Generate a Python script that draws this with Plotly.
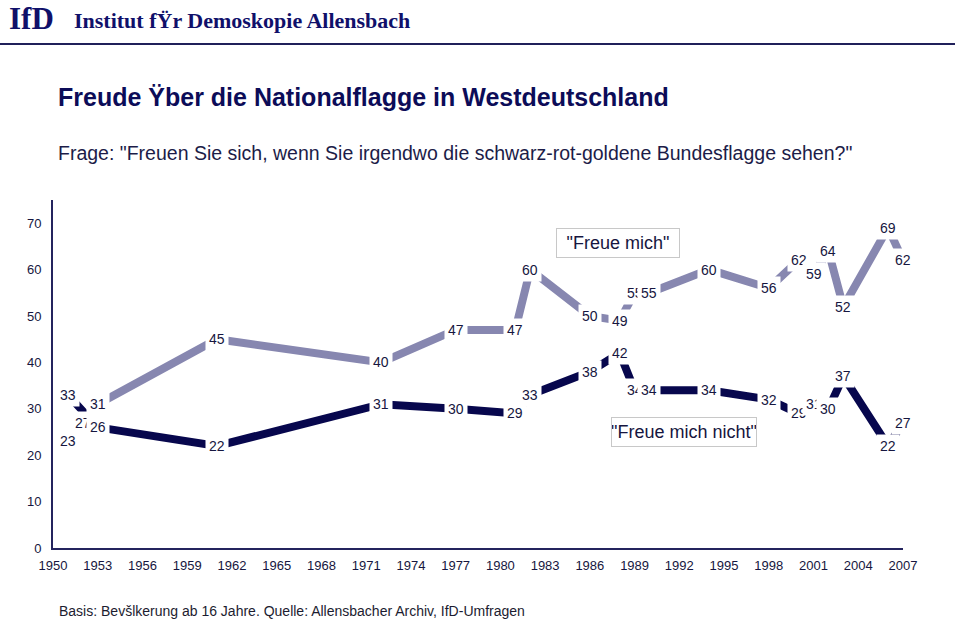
import plotly.graph_objects as go

years_mich = [1951, 1952, 1953, 1961, 1972, 1977, 1981, 1982, 1986, 1988, 1989, 1990,
              1994, 1998, 2000, 2001, 2002, 2003, 2006, 2007]
freue_mich = [23, 27, 31, 45, 40, 47, 47, 60, 50, 49, 55, 55, 60, 56, 62, 59, 64, 52, 69, 62]

years_nicht = [1951, 1953, 1961, 1972, 1977, 1981, 1982, 1986, 1988, 1989, 1990,
               1994, 1998, 2000, 2001, 2002, 2003, 2006, 2007]
freue_nicht = [33, 26, 22, 31, 30, 29, 33, 38, 42, 34, 34, 34, 32, 29, 31, 30, 37, 22, 27]

x_ticks = list(range(1950, 2008, 3))
y_ticks = list(range(0, 71, 10))

LIGHT = "#8787b0"
DARK = "#07074d"
NAVY = "#0c0c58"
TXT = "#161640"
SANS = "Liberation Sans, Arial, sans-serif"
SERIF = "Liberation Serif, Times New Roman, serif"

fig = go.Figure()
fig.add_trace(go.Scatter(x=years_mich, y=freue_mich, mode="lines",
                         line=dict(color=LIGHT, width=8), hoverinfo="skip",
                         showlegend=False))
fig.add_trace(go.Scatter(x=years_nicht, y=freue_nicht, mode="lines",
                         line=dict(color=DARK, width=8), hoverinfo="skip",
                         showlegend=False))

annotations = []
for xs, ys in ((years_mich, freue_mich), (years_nicht, freue_nicht)):
    for xv, yv in zip(xs, ys):
        annotations.append(dict(x=xv, y=yv, xref="x", yref="y", text=str(yv),
                                showarrow=False, bgcolor="white", borderpad=3,
                                font=dict(family=SANS, size=14, color=TXT)))

L, R, T, B = 53, 56, 200, 72
W, H = 959, 620
pw, ph = W - L - R, H - T - B


def px_x(px):
    return (px - L) / pw


def px_y(py):
    return (H - B - py) / ph


# series name boxes
annotations.append(dict(x=px_x(618), y=px_y(243), xref="paper", yref="paper",
                        xanchor="center", yanchor="middle",
                        text='"Freue mich"', showarrow=False, bgcolor="white",
                        bordercolor="#c8c8c8", borderwidth=1, borderpad=0,
                        width=122, height=28,
                        font=dict(family=SANS, size=18, color=TXT)))
annotations.append(dict(x=px_x(684), y=px_y(432), xref="paper", yref="paper",
                        xanchor="center", yanchor="middle",
                        text='"Freue mich nicht"', showarrow=False, bgcolor="white",
                        bordercolor="#c8c8c8", borderwidth=1, borderpad=0,
                        width=144, height=28,
                        font=dict(family=SANS, size=18, color=TXT)))

header_items = [
    dict(text="<b>IfD</b>", px=7, py=18, size=31, family=SERIF, color="#10106a"),
    dict(text="<b>Institut fŸr Demoskopie Allensbach</b>", px=72, py=20, size=22,
         family=SERIF, color="#10106a"),
    dict(text="<b>Freude Ÿber die Nationalflagge in Westdeutschland</b>", px=56, py=97,
         size=25, family=SANS, color=NAVY),
    dict(text='Frage: "Freuen Sie sich, wenn Sie irgendwo die schwarz-rot-goldene Bundesflagge sehen?"',
         px=56, py=153, size=19.5, family=SANS, color="#1c1c48"),
    dict(text="Basis: Bevšlkerung ab 16 Jahre. Quelle: Allensbacher Archiv, IfD-Umfragen",
         px=57, py=611, size=14, family=SANS, color="#1c1c30"),
]
for it in header_items:
    annotations.append(dict(x=px_x(it["px"]), y=px_y(it["py"]),
                            xref="paper", yref="paper", text=it["text"],
                            showarrow=False, xanchor="left", yanchor="middle",
                            font=dict(family=it["family"], size=it["size"], color=it["color"])))

fig.update_layout(
    width=W, height=H,
    margin=dict(l=L, r=R, t=T, b=B),
    paper_bgcolor="white", plot_bgcolor="white",
    annotations=annotations,
    shapes=[dict(type="line", xref="paper", yref="paper",
                 x0=px_x(0), x1=px_x(955), y0=px_y(44), y1=px_y(44),
                 line=dict(color="#20205a", width=2))],
    xaxis=dict(range=[1950, 2007], tickmode="array", tickvals=x_ticks,
               ticktext=[str(t) for t in x_ticks], showgrid=False, zeroline=False,
               showline=True, linecolor="#24245e", linewidth=2, ticks="",
               ticklabelstandoff=4,
               tickfont=dict(family=SANS, size=13, color=TXT)),
    yaxis=dict(range=[0, 75], tickmode="array", tickvals=y_ticks,
               ticktext=[str(t) for t in y_ticks], showgrid=False, zeroline=False,
               showline=True, linecolor="#24245e", linewidth=2, ticks="",
               ticklabelstandoff=7,
               tickfont=dict(family=SANS, size=13, color=TXT)),
)

fig.write_html("out.html", config={"displayModeBar": False},
               post_script="document.body.style.margin='0';document.body.style.overflow='hidden';")
